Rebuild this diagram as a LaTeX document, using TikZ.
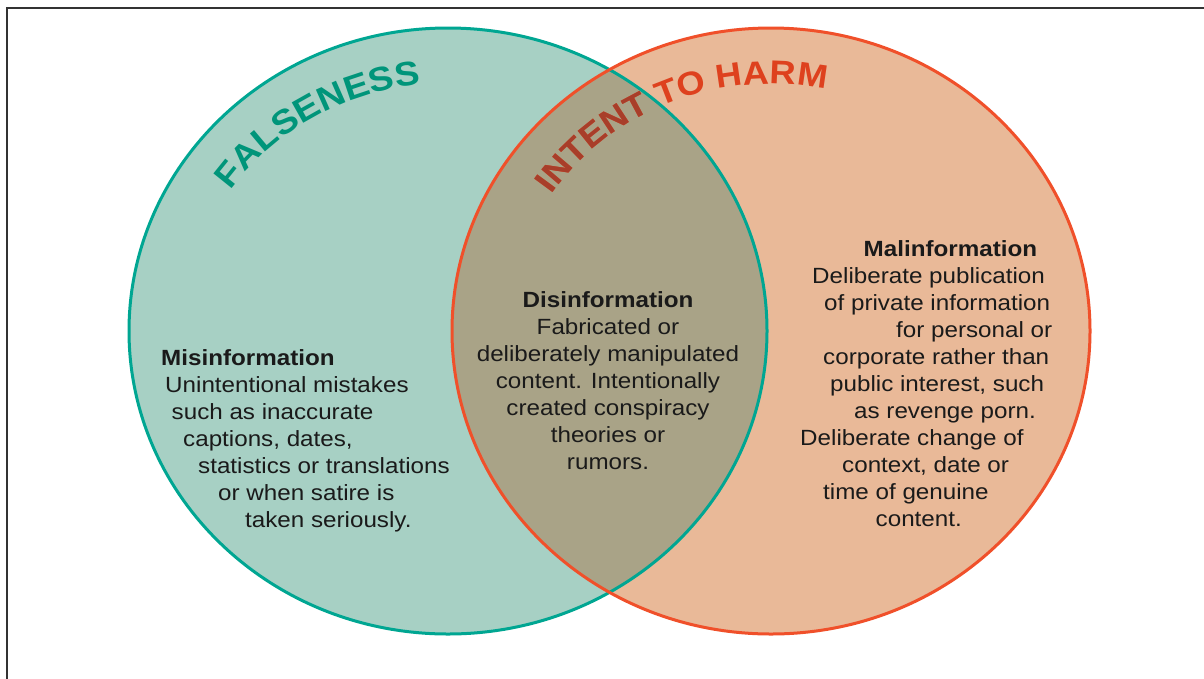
\documentclass[tikz,border=0pt]{standalone}
\usepackage{fontspec}
\usetikzlibrary{decorations.text,calc}
\newfontfamily\bodyfont[FakeStretch=1.1]{Liberation Sans}
\definecolor{tealline}{HTML}{00A692}
\definecolor{tealfill}{HTML}{A7D0C4}
\definecolor{orline}{HTML}{F0502A}
\definecolor{orfill}{HTML}{E9B998}
\definecolor{overlap}{HTML}{A9A387}
\definecolor{falsecol}{HTML}{00957A}
\definecolor{harmcol}{HTML}{DE411E}
\definecolor{harmdark}{HTML}{A83E2A}
\definecolor{bodycol}{HTML}{1A1A1A}
\definecolor{framecol}{HTML}{333333}
\newcommand\curvefont{\bodyfont\bfseries\fontsize{33}{36}\selectfont}
\newcommand\curvefontb{\bodyfont\bfseries\fontsize{34}{37}\selectfont}
\begin{document}
\begin{tikzpicture}[x=1pt,y=1pt,
 txt/.style={inner sep=0pt, anchor=base west, text=bodycol, font=\bodyfont\fontsize{22}{27}\selectfont},
 ctxt/.style={txt, anchor=base},
 hd/.style={font=\bodyfont\bfseries\fontsize{22}{27}\selectfont},
 ringA/.style={draw=tealline, line width=3pt},
 ringB/.style={draw=orline, line width=3pt},
 framestyle/.style={draw=framecol, line width=2pt}]
\useasboundingbox (0,0) rectangle (1204,-678);
\fill[white] (0,0) rectangle (1204,-678);
\coordinate (lc) at (448,-331);
\coordinate (rc) at (771,-331);
% fills
\fill[tealfill] (lc) ellipse[x radius=319, y radius=303];
\fill[orfill] (rc) ellipse[x radius=319, y radius=303];
\begin{scope}
  \clip (lc) ellipse[x radius=319, y radius=303];
  \fill[overlap] (rc) ellipse[x radius=319, y radius=303];
\end{scope}
% curved titles
\path[decorate, decoration={text along path, text={|\curvefontb\color{falsecol}|FALSENESS}}]
  (lc) ++(145.5:264 and 248) arc[start angle=145.5, end angle=40, x radius=264, y radius=248];
\path[decorate, decoration={text along path, text={|\curvefont\color{harmcol}|INTENT TO HARM}}]
  (rc) ++(146.5:263 and 247) arc[start angle=146.5, end angle=30, x radius=263, y radius=247];
\begin{scope}
  \clip (lc) ellipse[x radius=319, y radius=303];
  \path[decorate, decoration={text along path, text={|\curvefont\color{harmdark}|INTENT TO HARM}}]
    (rc) ++(146.5:263 and 247) arc[start angle=146.5, end angle=30, x radius=263, y radius=247];
\end{scope}
% outlines
\draw[ringA] (lc) ellipse[x radius=319, y radius=303];
\draw[ringB] (rc) ellipse[x radius=319, y radius=303];
% frame
\draw[framestyle] (1212,-8) -- (7,-8) -- (7,-690);
% Misinformation
\node[txt,hd] (mis0) at (161,-365) {Misinformation};
\node[txt] (mis1) at (165,-392) {Unintentional mistakes};
\node[txt] (mis2) at (171.5,-419) {such as inaccurate};
\node[txt] (mis3) at (183,-446) {captions, dates,};
\node[txt] (mis4) at (198,-473) {statistics or translations};
\node[txt] (mis5) at (218,-500) {or when satire is};
\node[txt] (mis6) at (245,-527) {taken seriously.};
% Disinformation
\node[ctxt,hd] (dis0) at (608,-307) {Disinformation};
\node[ctxt] (dis1) at (608,-334) {Fabricated or};
\node[ctxt] (dis2) at (608,-361) {deliberately manipulated};
\node[ctxt] (dis3) at (608,-388) {content. Intentionally};
\node[ctxt] (dis4) at (608,-415) {created conspiracy};
\node[ctxt] (dis5) at (608,-442) {theories or};
\node[ctxt] (dis6) at (608,-469) {rumors.};
% Malinformation
\node[txt,hd] (mal0) at (863.5,-256) {Malinformation};
\node[txt] (mal1) at (812,-283) {Deliberate publication};
\node[txt] (mal2) at (824,-310) {of private information};
\node[txt] (mal3) at (896,-337) {for personal or};
\node[txt] (mal4) at (823,-364) {corporate rather than};
\node[txt] (mal5) at (830,-391) {public interest, such};
\node[txt] (mal6) at (854,-418) {as revenge porn.};
\node[txt] (mal7) at (800,-445) {Deliberate change of};
\node[txt] (mal8) at (842,-472) {context, date or};
\node[txt] (mal9) at (823,-499) {time of genuine};
\node[txt] (mal10) at (875.5,-526) {content.};
\end{tikzpicture}
\end{document}
